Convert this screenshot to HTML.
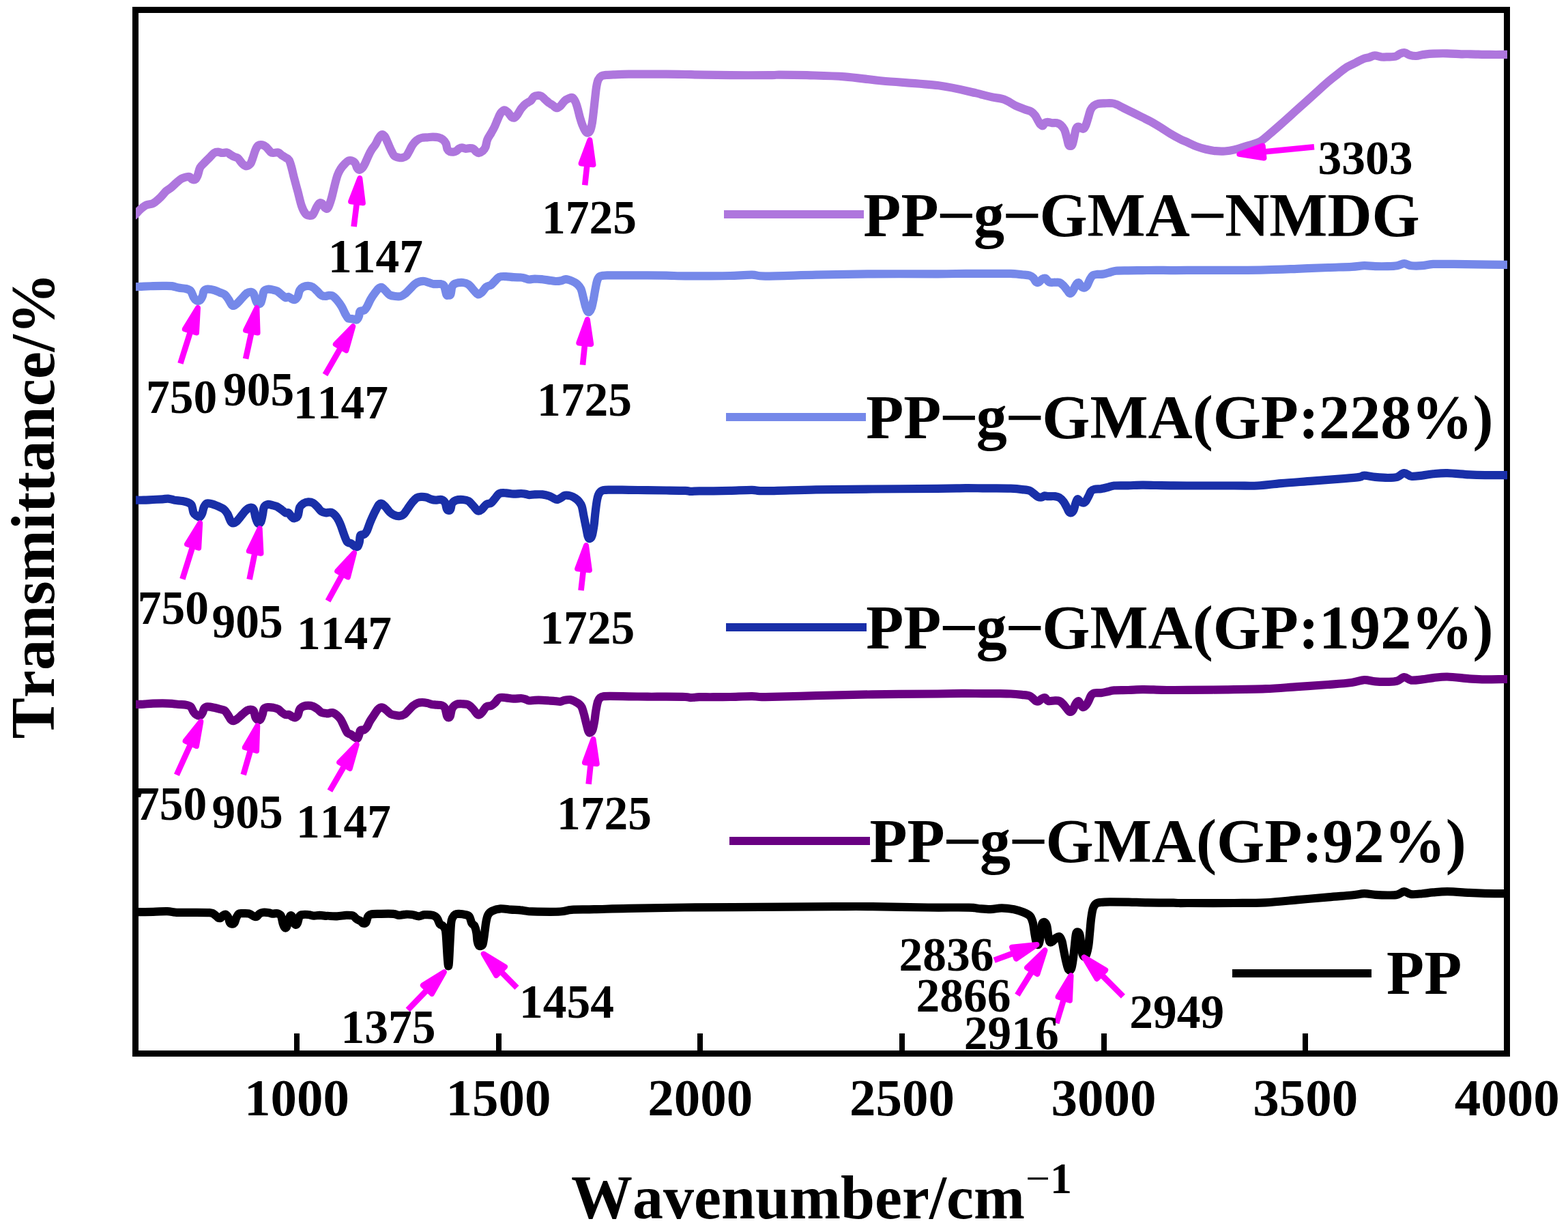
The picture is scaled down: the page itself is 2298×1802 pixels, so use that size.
<!DOCTYPE html>
<html lang="en">
<head>
<meta charset="utf-8">
<style>
html,body{margin:0;padding:0;background:#fff;}
body{width:2298px;height:1802px;overflow:hidden;}
svg{display:block;}
text{font-family:"Liberation Serif","DejaVu Serif",serif;font-weight:bold;fill:#000;font-kerning:none;font-variant-ligatures:none;}
.tick{font-size:77px;text-anchor:middle;}
.ann{font-size:69.5px;}
.leg{font-size:90.2px;}
.ttl{font-size:90px;}
.curve{fill:none;stroke-linejoin:round;stroke-linecap:butt;}
</style>
</head>
<body>
<svg width="2298" height="1802" viewBox="0 0 2298 1802">
<defs><clipPath id="plot"><rect x="199.0" y="14.5" width="2010.0" height="1529.0"/></clipPath></defs>
<rect x="0" y="0" width="2298" height="1802" fill="#fff"/>
<rect x="198.5" y="14.5" width="2010.0" height="1529.0" fill="none" stroke="#000" stroke-width="9" shape-rendering="crispEdges"/>
<g stroke="#000" stroke-width="8" shape-rendering="crispEdges">
<line x1="435" y1="1514" x2="435" y2="1540"/>
<line x1="731" y1="1514" x2="731" y2="1540"/>
<line x1="1026" y1="1514" x2="1026" y2="1540"/>
<line x1="1322" y1="1514" x2="1322" y2="1540"/>
<line x1="1618" y1="1514" x2="1618" y2="1540"/>
<line x1="1913" y1="1514" x2="1913" y2="1540"/>
</g>
<g clip-path="url(#plot)">
<path class="curve" d="M185.0,317.4C186.8,317.2 193.3,316.9 195.5,316.3C197.7,315.8 196.4,316.0 198.3,314.3C200.1,312.5 203.9,308.3 206.5,306.0C209.2,303.7 211.3,301.8 214.1,300.5C216.9,299.2 220.6,299.3 223.1,298.4C225.5,297.5 226.5,296.6 228.6,295.0C230.6,293.4 232.9,291.3 235.5,288.8C238.0,286.3 241.2,282.1 243.7,279.8C246.2,277.5 248.1,277.1 250.6,275.0C253.1,272.9 256.3,269.6 258.9,267.4C261.4,265.3 263.5,263.3 265.8,261.9C268.1,260.6 270.6,259.9 272.6,259.4C274.7,259.0 276.7,258.6 278.2,259.2C279.6,259.7 280.2,262.0 281.6,262.6C283.0,263.2 285.0,263.7 286.4,262.6C287.8,261.6 288.7,259.3 289.9,256.4C291.0,253.5 291.6,248.5 293.3,245.4C295.0,242.3 297.9,240.2 300.2,237.8C302.5,235.4 304.8,233.2 307.1,230.9C309.4,228.6 311.9,225.4 314.0,224.0C316.0,222.7 317.5,222.7 319.5,222.7C321.4,222.7 323.5,223.9 325.7,224.0C327.9,224.2 330.5,222.9 332.6,223.4C334.6,223.8 336.3,225.8 338.1,226.8C339.8,227.8 341.2,228.8 342.9,229.6C344.6,230.4 346.3,229.9 348.4,231.6C350.5,233.3 353.2,237.9 355.3,239.9C357.4,241.8 358.8,243.3 360.8,243.3C362.8,243.3 365.4,241.8 367.0,239.9C368.6,237.9 369.2,235.1 370.4,231.6C371.7,228.2 373.2,222.3 374.6,219.2C376.0,216.1 377.1,214.2 378.7,213.0C380.3,211.9 382.4,212.0 384.2,212.3C386.1,212.7 387.7,213.4 389.7,215.1C391.8,216.8 394.8,221.2 396.6,222.7C398.4,224.2 398.9,223.9 400.7,224.0C402.6,224.2 405.6,222.8 407.6,223.4C409.7,223.9 411.3,226.2 413.1,227.5C415.0,228.8 416.9,229.8 418.7,230.9C420.4,232.1 422.1,232.2 423.5,234.4C424.8,236.6 425.7,239.7 426.9,244.0C428.2,248.4 429.4,254.4 431.0,260.6C432.7,266.7 434.7,274.3 436.6,281.2C438.4,288.1 440.2,296.6 442.1,301.9C443.9,307.2 445.7,310.6 447.6,312.9C449.4,315.2 451.2,315.4 453.1,315.6C454.9,315.9 456.8,316.3 458.6,314.3C460.4,312.2 462.5,306.0 464.1,303.3C465.7,300.5 466.9,298.5 468.2,297.7C469.6,296.9 471.0,297.3 472.4,298.4C473.7,299.6 475.1,303.6 476.5,304.6C477.9,305.7 479.1,306.8 480.6,304.6C482.1,302.4 483.9,296.9 485.5,291.5C487.1,286.1 488.8,278.0 490.3,272.2C491.8,266.5 493.0,261.2 494.5,257.1C496.0,252.9 497.4,250.3 499.3,247.4C501.1,244.6 503.6,241.8 505.5,239.9C507.3,237.9 508.6,236.5 510.3,235.7C512.0,235.0 514.1,234.9 515.8,235.5C517.5,236.0 519.4,237.4 520.6,239.2C521.9,240.9 522.4,244.5 523.4,246.1C524.4,247.7 525.6,248.8 526.8,248.8C528.1,248.8 529.6,247.7 531.0,246.1C532.3,244.5 533.5,242.4 535.1,239.2C536.7,236.0 539.0,230.1 540.6,226.8C542.2,223.4 543.1,221.7 544.7,219.2C546.3,216.7 548.6,214.3 550.2,211.6C551.9,209.0 552.9,205.8 554.4,203.4C555.9,201.0 557.6,197.7 559.2,197.2C560.8,196.6 562.5,198.0 564.0,199.9C565.5,201.9 566.5,205.3 568.2,208.9C569.8,212.4 572.1,218.1 573.7,221.3C575.3,224.5 576.0,226.5 577.8,228.2C579.6,229.8 582.6,230.4 584.7,230.9C586.7,231.4 588.4,231.4 590.2,230.9C592.0,230.4 594.1,229.8 595.7,228.2C597.3,226.5 598.3,223.9 599.8,221.3C601.3,218.6 602.8,215.0 604.7,212.3C606.5,209.7 608.7,207.1 610.9,205.4C613.0,203.7 615.2,202.7 617.7,202.0C620.3,201.3 623.3,201.5 626.0,201.3C628.8,201.1 631.5,200.6 634.3,200.6C637.0,200.6 640.0,200.6 642.5,201.3C645.1,202.0 647.6,203.2 649.4,204.7C651.3,206.2 652.5,208.0 653.6,210.2C654.6,212.5 654.7,216.6 655.6,218.5C656.5,220.5 657.6,221.3 659.1,222.0C660.6,222.6 663.0,222.8 664.6,222.6C666.2,222.5 667.3,222.1 668.7,221.3C670.1,220.5 671.5,218.6 672.8,217.8C674.2,217.0 675.4,216.4 677.0,216.4C678.6,216.4 680.6,217.7 682.5,217.8C684.3,217.9 686.2,217.1 688.0,217.1C689.8,217.1 691.8,216.9 693.5,217.8C695.2,218.7 696.9,221.6 698.3,222.6C699.7,223.7 700.3,224.3 701.8,224.0C703.3,223.8 705.7,222.6 707.3,221.3C708.9,219.9 710.3,218.5 711.4,215.8C712.6,213.0 712.8,208.2 714.2,204.7C715.5,201.3 717.8,198.4 719.7,195.1C721.5,191.8 723.6,188.1 725.2,184.8C726.8,181.4 727.9,178.2 729.3,175.1C730.7,172.0 731.8,168.5 733.4,166.2C735.1,163.9 737.1,161.6 739.0,161.3C740.8,161.1 742.6,163.1 744.5,164.8C746.3,166.5 748.4,170.4 750.0,171.7C751.6,172.9 752.7,172.9 754.1,172.4C755.5,171.8 756.6,170.4 758.2,168.2C759.8,166.1 761.9,161.8 763.7,159.3C765.6,156.8 767.5,154.7 769.3,153.1C771.0,151.5 772.6,150.9 774.1,149.9C775.6,148.9 776.9,148.5 778.3,147.1C779.6,145.8 780.8,142.8 782.4,141.6C784.0,140.4 786.1,140.1 787.9,140.0C789.7,139.9 791.6,140.0 793.4,140.9C795.3,141.9 797.1,144.2 798.9,145.8C800.8,147.4 802.6,149.2 804.4,150.6C806.3,152.0 808.1,152.8 809.9,154.0C811.8,155.3 813.6,157.9 815.5,158.2C817.3,158.4 819.4,156.7 821.0,155.4C822.6,154.1 823.7,152.1 825.1,150.6C826.5,149.1 827.6,147.6 829.2,146.4C830.8,145.3 833.1,144.3 834.7,143.7C836.3,143.1 837.5,142.2 838.9,143.0C840.2,143.8 841.7,146.0 843.0,148.5C844.3,151.0 845.3,154.3 846.4,158.2C847.6,162.1 848.6,167.6 849.9,171.9C851.2,176.3 852.6,180.9 854.0,184.3C855.4,187.8 856.9,190.9 858.2,192.6C859.4,194.3 860.4,194.9 861.6,194.7C862.7,194.4 864.0,193.6 865.0,191.2C866.1,188.8 867.0,184.8 867.8,180.2C868.6,175.6 869.2,169.4 869.9,163.7C870.6,157.9 871.2,151.7 871.9,145.8C872.6,139.8 873.2,132.7 874.0,127.9C874.8,123.0 875.5,119.6 876.7,116.8C878.0,114.1 879.6,112.5 881.6,111.3C883.5,110.2 885.2,110.3 888.5,109.9C891.7,109.6 895.3,109.5 900.9,109.3C906.4,109.0 913.5,108.7 921.5,108.6C929.6,108.5 939.9,108.6 949.1,108.6C958.2,108.6 967.4,108.5 976.6,108.6C985.8,108.6 995.0,108.8 1004.2,109.0C1013.3,109.2 1020.7,109.5 1031.7,109.7C1042.7,109.9 1053.9,110.1 1070.0,110.2C1086.1,110.3 1116.6,110.3 1128.5,110.2C1140.4,110.1 1132.3,109.6 1141.3,109.6C1150.3,109.6 1166.6,109.7 1182.6,110.2C1198.7,110.7 1219.4,111.0 1237.7,112.4C1256.1,113.8 1269.9,116.3 1292.8,118.5C1315.8,120.6 1352.5,122.4 1375.5,125.3C1398.4,128.3 1419.8,134.1 1430.6,136.4C1440.0,138.6 1436.1,137.9 1440.0,138.9C1443.9,139.9 1448.5,141.2 1453.8,142.3C1459.1,143.5 1465.9,143.7 1471.7,145.8C1477.4,147.8 1483.2,152.3 1488.2,154.7C1493.3,157.1 1498.1,158.7 1502.0,160.2C1505.9,161.7 1509.1,162.2 1511.6,163.7C1514.2,165.2 1515.5,167.0 1517.1,169.2C1518.7,171.4 1520.0,174.6 1521.3,176.7C1522.5,178.9 1523.6,181.0 1524.7,182.3C1525.9,183.5 1527.1,184.7 1528.2,184.3C1529.2,184.0 1529.8,181.1 1530.9,180.2C1532.1,179.3 1533.2,178.8 1535.0,178.8C1536.9,178.8 1539.6,180.0 1541.9,180.2C1544.2,180.4 1546.7,179.7 1548.8,180.2C1550.9,180.7 1552.5,181.3 1554.3,182.9C1556.2,184.6 1558.3,186.9 1559.8,189.8C1561.3,192.8 1562.2,197.2 1563.3,200.9C1564.3,204.5 1565.1,209.7 1566.0,211.9C1567.0,214.1 1567.9,213.9 1568.8,213.9C1569.7,213.9 1570.6,214.1 1571.5,211.9C1572.5,209.7 1573.4,204.8 1574.3,200.9C1575.2,197.0 1576.0,191.0 1577.1,188.5C1578.1,185.9 1579.2,185.8 1580.5,185.7C1581.8,185.6 1583.4,187.3 1584.6,187.8C1585.9,188.2 1586.9,189.3 1588.1,188.5C1589.2,187.7 1590.4,185.7 1591.5,182.9C1592.7,180.2 1593.8,175.6 1595.0,171.9C1596.1,168.3 1597.1,163.7 1598.4,160.9C1599.7,158.2 1600.7,156.9 1602.5,155.4C1604.4,153.9 1606.7,152.6 1609.4,152.0C1612.2,151.3 1615.6,151.4 1619.1,151.3C1622.5,151.2 1627.1,150.9 1630.1,151.3C1633.1,151.6 1634.2,152.2 1637.0,153.3C1639.7,154.5 1642.7,156.2 1646.6,158.2C1650.5,160.1 1655.8,162.7 1660.4,165.0C1665.0,167.3 1669.6,169.6 1674.2,171.9C1678.8,174.2 1683.3,176.3 1687.9,178.8C1692.5,181.3 1697.1,184.2 1701.7,187.1C1706.3,189.9 1710.9,193.3 1715.5,196.0C1720.1,198.8 1725.2,201.5 1729.3,203.6C1733.3,205.7 1735.9,206.6 1740.0,208.4C1744.1,210.3 1749.2,212.9 1753.8,214.6C1758.4,216.3 1763.0,217.7 1767.5,218.8C1772.1,219.9 1776.7,220.8 1781.3,221.2C1785.9,221.7 1790.5,221.8 1795.1,221.5C1799.7,221.2 1804.3,220.5 1808.9,219.4C1813.5,218.4 1818.1,216.7 1822.6,215.3C1827.2,213.9 1832.3,212.6 1836.4,211.2C1840.6,209.8 1844.0,209.0 1847.4,207.1C1850.9,205.1 1852.0,203.7 1857.1,199.5C1862.1,195.2 1869.7,188.7 1877.7,181.6C1885.8,174.5 1896.1,165.0 1905.3,156.8C1914.5,148.5 1926.0,138.2 1932.8,132.0C1939.7,125.8 1942.0,123.5 1946.6,119.6C1951.2,115.7 1955.8,112.1 1960.4,108.6C1965.0,105.0 1969.6,101.1 1974.2,98.2C1978.8,95.4 1983.9,93.4 1987.9,91.3C1992.0,89.3 1995.2,87.4 1998.3,86.1C2001.4,84.9 2003.8,84.9 2006.5,84.1C2009.3,83.3 2011.8,81.4 2014.8,81.3C2017.8,81.2 2021.2,83.0 2024.4,83.4C2027.6,83.7 2030.6,83.5 2034.1,83.4C2037.5,83.3 2042.1,83.5 2045.1,82.7C2048.1,81.9 2049.7,79.5 2052.0,78.6C2054.3,77.6 2056.6,76.8 2058.9,77.2C2061.2,77.5 2063.0,79.8 2065.8,80.6C2068.5,81.4 2072.0,82.1 2075.4,82.0C2078.8,81.9 2082.3,80.5 2086.4,79.9C2090.6,79.4 2094.5,78.8 2100.2,78.6C2105.9,78.3 2114.0,78.2 2120.9,78.3C2127.7,78.4 2135.8,79.1 2141.5,79.3C2147.3,79.4 2148.4,79.1 2155.3,79.3C2162.2,79.4 2173.9,79.8 2182.8,79.9C2191.8,80.1 2203.5,79.9 2209.0,79.9C2214.5,79.9 2214.8,79.9 2216.0,79.9" stroke="#AE76DD" stroke-width="12.2"/>
<path class="curve" d="M185.0,420.2C186.8,420.2 193.3,420.2 195.5,420.2C197.7,420.2 195.7,420.4 198.3,420.2C200.8,420.1 206.3,419.7 210.7,419.6C215.0,419.4 219.8,419.3 224.4,419.1C229.0,419.0 233.6,418.9 238.2,418.9C242.8,418.9 248.1,418.7 252.0,419.1C255.9,419.6 258.2,421.0 261.6,421.6C265.1,422.3 269.7,422.2 272.6,423.0C275.6,423.8 277.7,424.4 279.5,426.4C281.4,428.5 282.3,433.1 283.7,435.4C285.0,437.7 286.3,439.4 287.8,440.2C289.3,441.0 291.1,441.3 292.6,440.2C294.1,439.2 295.7,436.3 296.7,434.0C297.8,431.7 297.6,428.2 298.8,426.4C300.1,424.7 301.8,423.9 304.3,423.7C306.9,423.5 311.0,424.3 314.0,425.1C317.0,425.9 319.7,427.5 322.2,428.5C324.8,429.5 327.1,429.7 329.1,431.3C331.2,432.9 332.9,435.6 334.6,438.2C336.3,440.7 338.1,444.8 339.4,446.4C340.8,448.0 341.4,448.3 342.9,447.8C344.4,447.3 346.3,445.6 348.4,443.7C350.5,441.7 353.0,438.5 355.3,436.1C357.6,433.7 360.1,430.6 362.2,429.2C364.2,427.8 366.1,427.6 367.7,427.8C369.3,428.1 370.6,428.4 371.8,430.6C373.1,432.8 374.2,438.5 375.3,440.9C376.3,443.3 376.9,444.6 378.0,445.0C379.2,445.5 381.0,445.5 382.1,443.7C383.3,441.8 384.1,436.9 384.9,434.0C385.7,431.2 385.7,428.2 387.0,426.4C388.2,424.7 390.4,424.0 392.5,423.7C394.5,423.3 397.1,423.9 399.4,424.4C401.7,424.8 404.0,425.2 406.3,426.4C408.5,427.7 411.1,430.3 413.1,432.0C415.2,433.6 417.0,435.6 418.7,436.1C420.3,436.6 421.2,434.5 422.8,434.8C424.4,435.2 426.7,437.5 428.3,438.2C429.9,438.8 431.0,439.5 432.4,438.8C433.8,438.2 435.4,436.3 436.6,434.0C437.7,431.7 437.9,427.4 439.3,425.1C440.7,422.8 442.8,421.3 444.8,420.2C446.9,419.2 449.4,418.8 451.7,418.9C454.0,419.0 456.3,419.6 458.6,420.9C460.9,422.3 463.4,425.2 465.5,427.1C467.5,429.1 468.9,431.5 471.0,432.6C473.1,433.8 476.3,434.0 477.9,434.0C479.5,434.1 479.1,433.1 480.6,433.0C482.1,432.9 484.7,432.2 486.9,433.3C489.1,434.4 491.5,436.9 493.8,439.5C496.1,442.2 498.6,445.7 500.7,449.2C502.7,452.6 504.6,457.3 506.2,460.2C507.8,463.1 508.7,465.2 510.3,466.4C511.9,467.5 513.7,466.7 515.8,467.1C517.9,467.4 521.0,469.1 522.7,468.5C524.4,467.8 525.3,465.0 526.1,462.9C526.9,460.9 526.3,457.4 527.5,456.1C528.8,454.7 532.0,455.8 533.7,454.7C535.4,453.5 536.2,451.9 537.9,449.2C539.5,446.4 541.5,441.4 543.4,438.2C545.2,434.9 547.0,432.4 548.9,429.9C550.7,427.4 552.7,424.5 554.4,423.0C556.1,421.5 557.4,420.4 559.2,420.9C561.0,421.5 563.4,424.6 565.4,426.4C567.4,428.3 568.6,430.7 570.9,432.0C573.2,433.2 576.4,433.7 579.2,434.0C581.9,434.4 584.9,434.7 587.4,434.0C590.0,433.3 592.0,431.7 594.3,429.9C596.6,428.1 598.9,425.3 601.2,423.0C603.5,420.7 605.8,417.8 608.1,416.1C610.4,414.4 612.7,413.4 615.0,412.7C617.3,412.0 619.6,411.8 621.9,412.0C624.2,412.2 626.5,413.4 628.8,414.0C631.1,414.7 632.9,415.8 635.6,416.1C638.4,416.5 642.8,415.7 645.3,416.1C647.8,416.6 649.3,416.3 650.8,418.9C652.3,421.4 653.2,429.0 654.2,431.3C655.3,433.6 656.0,432.6 657.0,432.6C658.0,432.6 659.5,433.3 660.4,431.3C661.4,429.2 661.4,422.9 662.5,420.2C663.7,417.6 664.7,416.5 667.3,415.4C670.0,414.4 675.1,413.8 678.3,414.0C681.6,414.3 683.9,414.9 686.6,416.8C689.4,418.8 692.6,423.3 694.9,425.8C697.2,428.2 698.5,430.8 700.4,431.3C702.2,431.7 703.8,430.3 705.9,428.5C708.0,426.7 710.5,422.1 712.8,420.2C715.1,418.4 717.6,418.9 719.7,417.5C721.7,416.1 723.1,413.9 725.2,412.0C727.2,410.0 729.3,406.9 732.1,405.8C734.8,404.6 738.3,405.0 741.7,405.1C745.2,405.2 749.1,406.0 752.7,406.2C756.4,406.4 760.9,406.2 763.7,406.5C766.6,406.7 768.0,407.3 770.0,407.9C772.0,408.4 773.2,409.4 775.5,409.5C777.8,409.6 780.6,408.6 783.8,408.5C787.0,408.5 791.3,408.9 794.8,409.2C798.2,409.6 801.2,410.1 804.4,410.6C807.6,411.1 811.1,411.9 814.1,412.0C817.1,412.1 819.8,411.8 822.3,411.3C824.9,410.8 826.5,409.1 829.2,409.2C832.0,409.3 836.1,410.8 838.9,412.0C841.6,413.1 843.7,414.3 845.8,416.1C847.8,418.0 849.8,419.8 851.3,423.0C852.8,426.2 853.6,431.0 854.7,435.4C855.9,439.8 857.1,445.7 858.2,449.2C859.2,452.6 860.0,454.8 860.9,456.1C861.8,457.3 862.6,457.7 863.7,456.7C864.7,455.8 866.1,453.7 867.1,450.6C868.1,447.5 868.9,442.7 869.9,438.2C870.8,433.6 871.7,427.6 872.6,423.0C873.5,418.4 874.3,413.6 875.4,410.6C876.4,407.6 877.3,406.2 878.8,405.1C880.3,403.9 881.8,404.0 884.3,403.7C886.9,403.4 887.8,403.5 894.0,403.4C900.2,403.4 912.3,403.4 921.5,403.4C930.7,403.4 939.9,403.4 949.1,403.4C958.2,403.5 967.4,403.6 976.6,403.7C985.8,403.9 995.0,404.3 1004.2,404.4C1013.3,404.5 1020.7,404.5 1031.7,404.4C1042.7,404.3 1058.3,404.3 1070.0,404.0C1081.7,403.7 1093.6,402.6 1102.2,402.7C1110.8,402.8 1105.9,404.6 1121.5,404.6C1137.1,404.6 1169.7,403.3 1195.9,402.7C1222.0,402.1 1248.8,401.6 1278.5,401.3C1308.2,401.1 1351.2,401.4 1374.0,401.3C1396.8,401.2 1404.3,400.8 1415.3,400.8C1426.3,400.7 1432.4,400.9 1440.0,400.9C1447.6,401.0 1453.8,400.9 1460.7,400.9C1467.5,400.9 1475.1,400.7 1481.3,400.9C1487.5,401.2 1493.3,401.9 1497.9,402.3C1502.4,402.8 1506.1,402.9 1508.9,403.7C1511.6,404.5 1512.8,405.5 1514.4,407.1C1516.0,408.7 1517.1,412.3 1518.5,413.3C1519.9,414.4 1521.3,414.0 1522.6,413.3C1524.0,412.6 1525.2,410.1 1526.8,409.2C1528.4,408.3 1530.4,407.1 1532.3,407.8C1534.1,408.5 1535.5,412.3 1537.8,413.3C1540.1,414.3 1543.5,413.6 1546.1,413.7C1548.6,413.9 1550.9,413.3 1552.9,414.0C1555.0,414.8 1556.6,416.3 1558.5,418.2C1560.3,420.0 1562.4,423.1 1564.0,425.0C1565.6,427.0 1566.7,429.6 1568.1,429.9C1569.5,430.1 1570.9,428.4 1572.2,426.4C1573.6,424.5 1575.0,420.2 1576.4,418.2C1577.7,416.1 1579.1,413.8 1580.5,414.0C1581.9,414.3 1583.3,418.3 1584.6,419.5C1586.0,420.8 1587.4,421.7 1588.8,421.6C1590.1,421.5 1591.5,420.8 1592.9,418.8C1594.3,416.9 1595.6,412.4 1597.0,409.9C1598.4,407.4 1599.3,405.0 1601.2,403.7C1603.0,402.4 1605.5,402.2 1608.0,401.9C1610.6,401.6 1613.6,402.0 1616.3,401.6C1619.1,401.2 1621.4,400.4 1624.6,399.6C1627.8,398.8 1630.8,397.3 1635.6,396.8C1640.4,396.3 1647.1,396.5 1653.5,396.4C1659.9,396.3 1667.3,396.2 1674.2,396.1C1681.0,396.0 1687.9,395.8 1694.8,395.8C1701.7,395.8 1708.0,396.1 1715.5,396.1C1723.0,396.1 1724.4,395.9 1740.0,395.9C1755.6,395.8 1789.7,396.0 1808.9,395.9C1828.0,395.8 1839.5,395.8 1854.8,395.4C1870.1,395.1 1885.4,394.4 1900.7,393.8C1916.0,393.2 1933.2,392.5 1946.6,392.0C1960.0,391.5 1972.2,391.3 1981.0,390.8C1989.8,390.4 1993.7,389.3 1999.4,389.2C2005.2,389.1 2009.7,390.0 2015.5,390.1C2021.2,390.3 2028.5,390.3 2033.8,390.1C2039.2,390.0 2043.6,389.9 2047.6,389.2C2051.6,388.6 2054.5,386.2 2058.0,386.2C2061.4,386.2 2063.9,388.7 2068.3,389.2C2072.7,389.7 2079.0,389.6 2084.4,389.2C2089.7,388.8 2092.8,387.3 2100.4,386.9C2108.1,386.6 2119.6,386.9 2130.3,386.9C2141.0,387.0 2151.7,387.2 2164.7,387.4C2177.7,387.5 2199.8,387.8 2208.3,387.9C2216.0,387.9 2214.7,387.9 2216.0,387.9" stroke="#7588E9" stroke-width="12.2"/>
<path class="curve" d="M185.0,732.7C186.8,732.7 193.3,732.7 195.5,732.7C197.7,732.7 195.7,732.7 198.3,732.7C200.8,732.7 206.3,732.8 210.7,732.7C215.0,732.6 219.8,732.2 224.4,732.0C229.0,731.8 234.5,731.5 238.2,731.3C241.9,731.1 243.5,730.4 246.5,730.6C249.5,730.8 252.7,732.1 256.1,732.7C259.6,733.2 263.9,733.5 267.1,734.0C270.3,734.6 273.1,735.1 275.4,736.1C277.7,737.1 279.5,737.7 280.9,740.2C282.3,742.8 282.5,748.7 283.7,751.3C284.8,753.8 286.3,754.4 287.8,755.4C289.3,756.4 291.2,757.9 292.6,757.5C294.0,757.0 295.0,755.1 296.1,752.6C297.1,750.2 297.7,745.5 298.8,743.0C300.0,740.5 301.1,738.3 302.9,737.5C304.8,736.7 307.1,737.5 309.8,738.2C312.6,738.9 316.5,740.4 319.5,741.6C322.5,742.9 325.4,743.9 327.7,745.8C330.0,747.6 331.5,749.7 333.3,752.6C335.0,755.6 336.7,761.4 338.1,763.7C339.4,766.0 340.0,766.4 341.5,766.4C343.0,766.4 345.0,765.5 347.0,763.7C349.1,761.8 351.6,758.2 353.9,755.4C356.2,752.6 358.5,749.1 360.8,747.1C363.1,745.2 365.8,743.8 367.7,743.7C369.5,743.6 370.7,744.0 371.8,746.4C373.0,748.9 373.5,754.8 374.6,758.2C375.6,761.5 376.8,765.3 378.0,766.4C379.3,767.6 381.0,767.1 382.1,765.0C383.3,763.0 384.1,757.7 384.9,754.0C385.7,750.3 385.7,745.5 387.0,743.0C388.2,740.5 390.4,739.3 392.5,738.9C394.5,738.4 397.1,739.7 399.4,740.2C401.7,740.8 404.0,741.2 406.3,742.3C408.5,743.5 411.1,745.6 413.1,747.1C415.2,748.6 417.0,750.6 418.7,751.3C420.3,752.0 421.4,750.4 422.8,751.3C424.2,752.1 425.5,755.1 426.9,756.5C428.3,757.9 429.4,759.7 431.0,759.5C432.7,759.3 435.2,758.2 436.6,755.4C437.9,752.6 437.9,746.0 439.3,743.0C440.7,740.0 442.8,738.8 444.8,737.5C446.9,736.2 449.4,735.5 451.7,735.4C454.0,735.3 456.3,735.5 458.6,736.8C460.9,738.1 463.4,740.9 465.5,743.0C467.5,745.1 468.9,747.8 471.0,749.2C473.1,750.6 476.3,751.0 477.9,751.3C479.5,751.6 479.1,750.9 480.6,750.9C482.1,750.9 484.7,750.1 486.9,751.3C489.1,752.5 491.7,755.2 493.8,758.2C495.8,761.1 497.6,765.0 499.3,769.2C501.0,773.3 502.5,778.8 504.1,782.9C505.7,787.1 507.2,791.8 508.9,794.0C510.6,796.1 512.6,795.0 514.4,796.0C516.3,797.1 518.3,799.4 519.9,800.2C521.6,801.0 522.9,801.9 524.1,800.9C525.2,799.8 526.1,796.7 526.8,794.0C527.5,791.2 527.1,786.2 528.2,784.3C529.4,782.5 532.1,784.1 533.7,782.9C535.3,781.8 536.5,780.2 537.9,777.4C539.2,774.7 540.6,769.9 542.0,766.4C543.4,763.0 544.5,760.2 546.1,756.8C547.7,753.3 550.0,748.7 551.6,745.8C553.2,742.8 554.4,740.1 555.8,738.9C557.1,737.6 558.3,737.5 559.9,738.2C561.5,738.9 563.6,741.1 565.4,743.0C567.2,745.0 568.8,747.9 570.9,749.9C573.0,751.8 575.5,753.7 577.8,754.7C580.1,755.7 582.4,756.3 584.7,756.1C587.0,755.9 589.5,755.1 591.6,753.3C593.6,751.6 595.0,748.6 597.1,745.8C599.1,742.9 601.7,738.9 604.0,736.1C606.3,733.4 608.6,730.6 610.9,729.2C613.1,727.9 615.4,728.0 617.7,727.9C620.0,727.7 622.3,728.0 624.6,728.5C626.9,729.1 629.2,730.6 631.5,731.3C633.8,732.0 635.9,732.6 638.4,732.7C640.9,732.8 644.4,731.4 646.7,732.0C649.0,732.6 650.8,733.8 652.2,736.1C653.6,738.4 654.0,743.8 654.9,745.8C655.8,747.7 656.8,747.8 657.7,747.8C658.6,747.8 659.6,747.5 660.4,745.8C661.2,744.0 661.1,739.7 662.5,737.5C663.9,735.3 666.1,733.6 668.7,732.7C671.3,731.8 675.4,731.8 678.3,732.0C681.3,732.2 684.1,732.6 686.6,734.0C689.1,735.5 691.2,738.5 693.5,740.9C695.8,743.3 698.3,747.6 700.4,748.5C702.5,749.4 703.8,748.1 705.9,746.4C708.0,744.8 710.5,740.5 712.8,738.9C715.1,737.3 717.6,738.2 719.7,736.8C721.7,735.4 723.1,732.9 725.2,730.6C727.2,728.3 729.3,724.4 732.1,723.0C734.8,721.7 738.3,722.2 741.7,722.3C745.2,722.5 749.1,723.6 752.7,723.7C756.4,723.8 760.9,723.0 763.7,723.0C766.6,723.0 768.0,723.4 770.0,723.7C772.0,724.1 773.2,725.0 775.5,725.1C777.8,725.2 780.6,724.5 783.8,724.4C787.0,724.3 791.3,724.1 794.8,724.4C798.2,724.8 801.7,725.6 804.4,726.5C807.2,727.4 809.4,729.0 811.3,729.9C813.3,730.8 814.3,732.1 816.1,732.0C818.0,731.9 820.4,730.3 822.3,729.2C824.3,728.2 825.6,726.2 827.9,725.8C830.1,725.3 833.6,725.8 836.1,726.5C838.6,727.2 840.9,728.5 843.0,729.9C845.1,731.3 846.9,732.8 848.5,734.7C850.1,736.7 851.5,738.2 852.6,741.6C853.8,745.1 854.4,750.3 855.4,755.4C856.4,760.4 857.8,766.9 858.8,771.9C859.9,777.0 860.7,782.8 861.6,785.7C862.5,788.6 863.3,789.4 864.4,789.1C865.4,788.9 866.8,787.7 867.8,784.3C868.8,781.0 869.7,774.9 870.6,769.2C871.4,763.4 871.8,756.3 872.6,749.9C873.4,743.5 874.3,735.3 875.4,730.6C876.4,725.9 877.3,723.7 878.8,721.7C880.3,719.6 881.8,718.9 884.3,718.2C886.9,717.5 887.8,717.6 894.0,717.5C900.2,717.5 912.3,717.7 921.5,717.8C930.7,717.9 939.9,718.1 949.1,718.2C958.2,718.3 967.4,718.4 976.6,718.5C985.8,718.6 998.2,718.7 1004.2,718.9C1010.1,719.1 1009.0,719.8 1012.4,719.9C1015.9,719.9 1019.3,719.4 1024.8,719.3C1030.3,719.2 1038.0,719.4 1045.5,719.3C1053.0,719.2 1060.5,719.1 1070.0,718.9C1079.5,718.7 1093.6,717.8 1102.2,717.9C1110.8,717.9 1105.9,719.3 1121.5,719.2C1137.1,719.1 1169.7,717.8 1195.9,717.3C1222.0,716.8 1248.8,716.7 1278.5,716.5C1308.2,716.2 1351.2,716.2 1374.0,715.9C1396.8,715.7 1404.3,715.2 1415.3,715.1C1426.3,715.0 1432.4,715.3 1440.0,715.4C1447.6,715.4 1453.8,715.4 1460.7,715.4C1467.5,715.4 1475.1,715.4 1481.3,715.7C1487.5,716.0 1493.3,716.5 1497.9,717.1C1502.4,717.6 1505.9,717.7 1508.9,718.8C1511.9,719.9 1513.7,722.2 1515.8,723.7C1517.8,725.2 1519.4,727.0 1521.3,727.8C1523.1,728.6 1525.2,728.7 1526.8,728.5C1528.4,728.3 1529.3,726.6 1530.9,726.4C1532.5,726.2 1533.9,727.0 1536.4,727.1C1538.9,727.2 1543.3,726.8 1546.1,727.1C1548.8,727.5 1550.9,727.9 1552.9,729.2C1555.0,730.4 1556.7,732.4 1558.5,734.7C1560.2,737.0 1561.9,740.4 1563.3,742.9C1564.7,745.5 1565.6,748.5 1566.7,749.8C1567.9,751.2 1569.0,751.7 1570.2,751.2C1571.3,750.8 1572.6,749.4 1573.6,747.1C1574.6,744.8 1575.4,740.1 1576.4,737.4C1577.3,734.8 1578.0,731.7 1579.1,731.2C1580.3,730.8 1581.9,733.8 1583.3,734.7C1584.6,735.6 1586.0,736.9 1587.4,736.7C1588.8,736.6 1590.1,735.7 1591.5,734.0C1592.9,732.3 1594.4,728.8 1595.6,726.4C1596.9,724.0 1597.7,721.1 1599.1,719.5C1600.5,717.9 1601.5,717.4 1603.9,716.8C1606.3,716.2 1610.3,716.5 1613.6,716.1C1616.8,715.6 1620.0,714.8 1623.2,714.0C1626.4,713.3 1627.8,712.0 1632.8,711.5C1637.9,711.1 1646.6,711.4 1653.5,711.3C1660.4,711.1 1667.3,710.6 1674.2,710.6C1681.0,710.5 1687.9,710.9 1694.8,711.0C1701.7,711.1 1708.0,711.2 1715.5,711.3C1723.0,711.4 1724.4,711.5 1740.0,711.5C1755.6,711.5 1791.7,711.5 1808.9,711.5C1826.1,711.5 1831.8,712.1 1843.3,711.5C1854.8,710.9 1864.3,709.2 1877.7,708.1C1891.1,706.9 1908.4,705.8 1923.7,704.6C1939.0,703.5 1958.1,702.1 1969.6,701.2C1981.0,700.2 1987.6,699.6 1992.5,698.9C1997.5,698.1 1995.6,696.6 1999.4,696.6C2003.2,696.6 2009.7,698.3 2015.5,698.9C2021.2,699.4 2028.5,700.0 2033.8,700.0C2039.2,700.0 2043.6,700.0 2047.6,698.9C2051.6,697.7 2054.5,693.3 2058.0,693.1C2061.4,692.9 2063.9,697.1 2068.3,697.7C2072.7,698.3 2079.0,697.1 2084.4,696.6C2089.7,696.0 2094.3,694.9 2100.4,694.3C2106.5,693.7 2112.3,692.9 2121.1,693.1C2129.9,693.3 2144.0,694.9 2153.2,695.4C2162.4,695.9 2167.0,696.0 2176.2,696.1C2185.4,696.2 2201.7,696.1 2208.3,696.1C2215.0,696.1 2214.7,696.1 2216.0,696.1" stroke="#192FA8" stroke-width="12.2"/>
<path class="curve" d="M185.0,1032.0C186.8,1032.0 193.3,1032.0 195.5,1032.0C197.7,1032.0 195.7,1032.1 198.3,1032.0C200.8,1031.9 206.3,1031.8 210.7,1031.6C215.0,1031.3 219.8,1030.8 224.4,1030.6C229.0,1030.4 233.6,1030.3 238.2,1030.3C242.8,1030.4 248.1,1030.6 252.0,1030.9C255.9,1031.2 258.2,1031.7 261.6,1032.0C265.1,1032.3 269.7,1032.1 272.6,1032.7C275.6,1033.2 277.7,1033.7 279.5,1035.4C281.4,1037.1 282.3,1041.1 283.7,1043.0C285.0,1045.0 286.2,1046.2 287.8,1047.1C289.4,1048.1 291.8,1049.0 293.3,1048.5C294.8,1048.1 295.7,1046.2 296.7,1044.4C297.8,1042.5 298.2,1039.0 299.5,1037.5C300.8,1036.0 301.9,1035.5 304.3,1035.4C306.7,1035.3 311.0,1036.2 314.0,1036.8C317.0,1037.4 319.7,1038.2 322.2,1038.9C324.8,1039.6 327.2,1039.6 329.1,1040.9C331.1,1042.3 332.4,1045.0 333.9,1047.1C335.4,1049.3 336.7,1052.5 338.1,1054.0C339.4,1055.5 340.5,1056.3 342.2,1056.1C343.9,1055.9 346.2,1054.3 348.4,1052.6C350.6,1051.0 353.0,1048.4 355.3,1046.4C357.6,1044.5 360.1,1042.1 362.2,1040.9C364.2,1039.8 366.1,1039.4 367.7,1039.6C369.3,1039.7 370.7,1039.7 371.8,1041.6C373.0,1043.6 373.5,1049.1 374.6,1051.3C375.6,1053.4 376.8,1054.4 378.0,1054.7C379.3,1055.1 381.0,1054.8 382.1,1053.3C383.3,1051.8 384.1,1048.3 384.9,1045.8C385.7,1043.2 385.7,1039.8 387.0,1038.2C388.2,1036.6 390.2,1036.3 392.5,1036.1C394.8,1035.9 398.2,1036.3 400.7,1036.8C403.3,1037.3 405.6,1037.7 407.6,1038.9C409.7,1040.0 411.3,1042.3 413.1,1043.7C415.0,1045.1 416.9,1046.6 418.7,1047.1C420.4,1047.7 421.9,1046.4 423.5,1046.9C425.1,1047.3 426.8,1049.2 428.3,1049.9C429.8,1050.6 431.0,1051.6 432.4,1051.3C433.8,1050.9 435.4,1049.9 436.6,1047.8C437.7,1045.8 437.9,1041.1 439.3,1038.9C440.7,1036.7 442.8,1035.6 444.8,1034.7C446.9,1033.9 449.4,1033.6 451.7,1033.6C454.0,1033.6 456.3,1033.9 458.6,1034.7C460.9,1035.6 463.4,1037.4 465.5,1038.9C467.5,1040.4 468.9,1042.7 471.0,1043.7C473.1,1044.7 476.3,1044.8 477.9,1045.1C479.5,1045.4 479.1,1045.6 480.6,1045.4C482.1,1045.2 484.7,1043.7 486.9,1044.1C489.1,1044.5 491.7,1046.2 493.8,1047.8C495.8,1049.5 497.6,1051.4 499.3,1054.0C501.0,1056.7 502.5,1060.4 504.1,1063.7C505.7,1066.9 507.2,1071.2 508.9,1073.3C510.6,1075.4 512.6,1074.9 514.4,1076.1C516.3,1077.2 518.3,1079.3 519.9,1080.2C521.6,1081.1 522.9,1082.5 524.1,1081.6C525.2,1080.7 526.1,1076.6 526.8,1074.7C527.5,1072.7 527.1,1070.8 528.2,1069.9C529.4,1068.9 532.1,1070.0 533.7,1069.2C535.3,1068.4 536.5,1067.1 537.9,1065.0C539.2,1063.0 540.4,1059.5 542.0,1056.8C543.6,1054.0 545.7,1051.3 547.5,1048.5C549.3,1045.8 551.4,1042.2 553.0,1040.2C554.6,1038.3 555.8,1037.4 557.1,1036.8C558.5,1036.2 559.7,1036.1 561.3,1036.8C562.9,1037.5 564.9,1039.4 566.8,1040.9C568.6,1042.4 570.2,1044.6 572.3,1045.8C574.4,1046.9 576.9,1047.4 579.2,1047.8C581.5,1048.3 583.8,1048.7 586.1,1048.5C588.4,1048.3 590.9,1047.7 592.9,1046.4C595.0,1045.2 596.4,1043.0 598.5,1040.9C600.5,1038.9 603.0,1035.9 605.3,1034.0C607.6,1032.2 609.9,1030.7 612.2,1029.9C614.5,1029.1 616.8,1029.2 619.1,1029.2C621.4,1029.2 623.7,1029.5 626.0,1029.9C628.3,1030.4 630.6,1031.5 632.9,1032.0C635.2,1032.4 637.4,1032.4 639.8,1032.7C642.2,1032.9 645.3,1032.6 647.4,1033.4C649.4,1034.2 650.9,1035.0 652.2,1037.5C653.4,1040.0 654.1,1046.2 654.9,1048.5C655.7,1050.8 656.2,1051.2 657.0,1051.3C657.8,1051.4 658.8,1051.4 659.8,1049.2C660.7,1047.0 661.0,1041.1 662.5,1038.2C664.0,1035.3 666.1,1033.1 668.7,1032.0C671.3,1030.8 675.4,1031.2 678.3,1031.3C681.3,1031.4 684.1,1031.4 686.6,1032.7C689.1,1033.9 691.2,1036.5 693.5,1038.9C695.8,1041.3 698.3,1046.2 700.4,1047.1C702.5,1048.1 703.8,1046.3 705.9,1044.4C708.0,1042.4 710.5,1037.1 712.8,1035.4C715.1,1033.7 717.6,1035.0 719.7,1034.0C721.7,1033.1 723.1,1031.9 725.2,1029.9C727.2,1028.0 729.3,1023.6 732.1,1022.3C734.8,1021.1 738.3,1022.1 741.7,1022.3C745.2,1022.6 749.1,1023.6 752.7,1023.7C756.4,1023.8 760.9,1022.9 763.7,1023.0C766.6,1023.1 768.0,1023.8 770.0,1024.4C772.0,1025.0 773.2,1026.2 775.5,1026.5C777.8,1026.7 780.6,1025.9 783.8,1025.8C787.0,1025.7 791.3,1025.7 794.8,1025.8C798.2,1025.9 801.2,1026.2 804.4,1026.5C807.6,1026.7 811.3,1026.9 814.1,1027.2C816.8,1027.4 818.7,1028.1 821.0,1027.9C823.3,1027.6 825.3,1026.2 827.9,1025.8C830.4,1025.3 833.6,1024.8 836.1,1025.1C838.6,1025.4 840.9,1026.8 843.0,1027.9C845.1,1028.9 846.9,1029.9 848.5,1031.3C850.1,1032.7 851.4,1033.5 852.6,1036.1C853.9,1038.8 854.9,1043.0 856.1,1047.1C857.2,1051.3 858.5,1056.9 859.5,1060.9C860.6,1064.9 861.4,1069.2 862.3,1071.2C863.2,1073.3 864.0,1073.7 865.0,1073.3C866.1,1073.0 867.5,1071.9 868.5,1069.2C869.5,1066.4 870.4,1061.4 871.2,1056.8C872.0,1052.2 872.5,1046.4 873.3,1041.6C874.1,1036.8 875.0,1031.1 876.1,1027.9C877.1,1024.6 878.1,1023.6 879.5,1022.3C880.9,1021.1 881.9,1020.7 884.3,1020.3C886.7,1019.9 887.8,1019.9 894.0,1019.9C900.2,1019.9 912.3,1020.1 921.5,1020.3C930.7,1020.4 939.9,1020.6 949.1,1020.7C958.2,1020.8 967.4,1020.6 976.6,1020.7C985.8,1020.7 998.2,1020.7 1004.2,1021.0C1010.1,1021.2 1009.0,1022.0 1012.4,1022.1C1015.9,1022.1 1019.3,1021.4 1024.8,1021.2C1030.3,1021.1 1038.0,1021.3 1045.5,1021.2C1053.0,1021.2 1060.5,1021.2 1070.0,1021.0C1079.5,1020.8 1093.6,1020.0 1102.2,1020.1C1110.8,1020.1 1105.9,1021.3 1121.5,1021.2C1137.1,1021.0 1169.7,1019.9 1195.9,1019.2C1222.0,1018.6 1248.8,1017.8 1278.5,1017.3C1308.2,1016.8 1351.2,1016.7 1374.0,1016.5C1396.8,1016.2 1404.3,1016.0 1415.3,1015.9C1426.3,1015.9 1432.4,1016.1 1440.0,1016.1C1447.6,1016.1 1453.8,1016.0 1460.7,1016.1C1467.5,1016.2 1475.1,1016.2 1481.3,1016.5C1487.5,1016.8 1493.3,1017.4 1497.9,1017.9C1502.4,1018.4 1506.1,1018.6 1508.9,1019.5C1511.6,1020.5 1512.8,1022.4 1514.4,1023.7C1516.0,1024.9 1517.1,1026.5 1518.5,1027.1C1519.9,1027.7 1521.3,1027.7 1522.6,1027.1C1524.0,1026.5 1525.3,1024.5 1526.8,1023.7C1528.3,1022.9 1530.0,1021.7 1531.6,1022.3C1533.2,1022.9 1534.0,1026.4 1536.4,1027.1C1538.8,1027.8 1543.3,1026.4 1546.1,1026.4C1548.8,1026.4 1550.9,1026.2 1552.9,1027.1C1555.0,1028.0 1556.6,1030.0 1558.5,1031.9C1560.3,1033.9 1562.4,1037.0 1564.0,1038.8C1565.6,1040.7 1566.7,1042.7 1568.1,1042.9C1569.5,1043.2 1570.9,1042.1 1572.2,1040.2C1573.6,1038.2 1575.0,1033.4 1576.4,1031.2C1577.7,1029.1 1579.2,1026.9 1580.5,1027.1C1581.8,1027.3 1582.8,1031.1 1583.9,1032.6C1585.1,1034.1 1586.1,1035.9 1587.4,1036.1C1588.6,1036.2 1590.1,1034.9 1591.5,1033.3C1592.9,1031.7 1594.4,1028.8 1595.6,1026.4C1596.9,1024.0 1597.7,1020.7 1599.1,1018.8C1600.5,1017.0 1601.5,1016.0 1603.9,1015.4C1606.3,1014.8 1610.3,1015.5 1613.6,1015.1C1616.8,1014.8 1620.0,1014.0 1623.2,1013.3C1626.4,1012.7 1627.8,1011.7 1632.8,1011.3C1637.9,1010.9 1646.6,1011.2 1653.5,1011.0C1660.4,1010.8 1667.3,1010.2 1674.2,1010.2C1681.0,1010.1 1687.9,1010.4 1694.8,1010.6C1701.7,1010.7 1708.0,1011.0 1715.5,1011.0C1723.0,1011.0 1726.3,1010.9 1740.0,1010.8C1753.7,1010.7 1778.3,1010.6 1797.4,1010.3C1816.5,1010.1 1837.6,1009.9 1854.8,1009.2C1872.0,1008.5 1885.4,1007.2 1900.7,1006.2C1916.0,1005.2 1933.2,1004.0 1946.6,1003.0C1960.0,1002.0 1972.2,1001.2 1981.0,1000.0C1989.8,998.9 1993.7,996.4 1999.4,996.1C2005.2,995.8 2009.7,998.0 2015.5,998.4C2021.2,998.9 2028.5,999.0 2033.8,998.9C2039.2,998.8 2043.6,998.9 2047.6,997.7C2051.6,996.6 2054.5,992.2 2058.0,992.0C2061.4,991.8 2063.9,996.0 2068.3,996.6C2072.7,997.1 2079.0,996.0 2084.4,995.4C2089.7,994.9 2094.3,993.8 2100.4,993.1C2106.5,992.5 2112.3,991.3 2121.1,991.5C2129.9,991.7 2144.0,993.6 2153.2,994.3C2162.4,994.9 2167.0,995.3 2176.2,995.4C2185.4,995.5 2201.7,995.0 2208.3,995.0C2215.0,994.9 2214.7,995.0 2216.0,995.0" stroke="#690082" stroke-width="12.2"/>
<path class="curve" d="M185.0,1336.1C186.8,1336.1 193.3,1336.1 195.5,1336.1C197.7,1336.1 195.5,1336.2 198.3,1336.1C203.1,1336.1 216.6,1336.0 224.4,1335.8C232.2,1335.7 239.4,1335.0 245.1,1335.2C250.8,1335.3 253.1,1336.5 258.9,1336.8C264.6,1337.1 271.5,1336.7 279.5,1336.8C287.6,1336.9 301.3,1336.8 307.1,1337.2C312.8,1337.7 311.9,1338.4 314.0,1339.6C316.0,1340.8 318.0,1343.5 319.5,1344.4C321.0,1345.3 321.8,1345.5 322.9,1345.1C324.1,1344.6 325.1,1342.5 326.4,1341.6C327.6,1340.7 329.1,1339.1 330.5,1339.6C331.9,1340.0 333.6,1342.4 334.6,1344.4C335.7,1346.3 335.8,1349.7 336.7,1351.3C337.6,1352.8 339.0,1353.6 340.1,1353.7C341.3,1353.9 342.5,1353.5 343.6,1352.0C344.6,1350.4 345.3,1346.6 346.3,1344.4C347.4,1342.2 348.3,1339.9 349.8,1338.9C351.3,1337.8 352.8,1338.3 355.3,1338.2C357.8,1338.1 362.2,1337.8 364.9,1338.5C367.7,1339.1 370.0,1341.6 371.8,1342.3C373.7,1343.1 374.6,1343.6 376.0,1343.0C377.3,1342.4 378.5,1339.9 380.1,1338.9C381.7,1337.8 383.3,1337.1 385.6,1336.8C387.9,1336.5 391.6,1336.9 393.9,1337.2C396.2,1337.5 397.3,1338.4 399.4,1338.6C401.4,1338.8 404.2,1337.7 406.3,1338.2C408.3,1338.7 410.4,1339.2 411.8,1341.6C413.1,1344.0 413.6,1349.8 414.5,1352.6C415.4,1355.5 416.4,1357.9 417.3,1358.8C418.2,1359.8 419.1,1359.9 420.0,1358.2C420.9,1356.4 421.9,1351.3 422.8,1348.5C423.7,1345.8 424.6,1342.5 425.5,1341.6C426.5,1340.7 427.5,1341.4 428.3,1343.0C429.1,1344.6 429.6,1349.3 430.4,1351.3C431.2,1353.2 432.2,1354.5 433.1,1354.7C434.0,1354.9 434.9,1354.6 435.9,1352.6C436.8,1350.7 437.6,1345.1 438.6,1343.0C439.7,1340.9 439.9,1340.8 442.1,1340.2C444.2,1339.7 448.7,1339.7 451.7,1340.0C454.7,1340.2 457.2,1341.5 460.0,1341.6C462.7,1341.8 465.3,1340.9 468.2,1340.9C471.2,1341.0 475.9,1341.7 477.9,1341.9C479.8,1342.1 477.9,1341.8 480.0,1341.9C482.6,1342.0 489.2,1342.5 493.8,1342.3C498.4,1342.2 503.6,1341.1 507.5,1340.9C511.5,1340.8 514.7,1340.7 517.2,1341.6C519.7,1342.5 520.9,1345.2 522.7,1346.4C524.5,1347.7 526.6,1348.2 528.2,1349.2C529.8,1350.2 531.0,1352.3 532.3,1352.6C533.7,1353.0 535.3,1352.9 536.5,1351.3C537.6,1349.7 538.1,1345.0 539.2,1343.0C540.4,1341.1 540.6,1340.2 543.4,1339.6C546.1,1338.9 550.2,1339.0 555.8,1338.9C561.3,1338.8 571.6,1338.5 576.4,1338.9C581.2,1339.2 581.7,1340.8 584.7,1340.9C587.7,1341.1 591.1,1339.7 594.3,1339.6C597.5,1339.4 600.8,1339.5 604.0,1340.0C607.2,1340.4 610.6,1342.3 613.6,1342.3C616.6,1342.4 618.4,1340.5 621.9,1340.2C625.3,1340.0 631.2,1340.1 634.3,1340.9C637.4,1341.7 638.7,1342.9 640.5,1345.1C642.2,1347.2 643.2,1352.2 644.6,1354.0C646.0,1355.9 647.5,1354.9 648.7,1356.1C650.0,1357.2 651.4,1359.2 652.2,1360.9C653.0,1362.6 653.0,1363.2 653.4,1366.4C653.8,1369.6 654.1,1375.6 654.4,1380.2C654.7,1384.8 654.9,1389.4 655.2,1394.0C655.5,1398.6 655.8,1404.2 656.2,1407.7C656.5,1411.3 656.8,1415.3 657.1,1415.3C657.5,1415.3 657.7,1413.6 658.1,1407.7C658.5,1401.9 659.0,1389.4 659.5,1380.2C660.0,1371.0 660.5,1358.6 661.1,1352.6C661.7,1346.7 662.2,1346.6 663.2,1344.4C664.2,1342.2 665.7,1340.5 667.3,1339.6C668.9,1338.6 670.3,1338.8 672.8,1338.9C675.4,1339.0 680.0,1339.6 682.5,1340.2C685.0,1340.9 686.5,1340.9 688.0,1343.0C689.5,1345.1 690.2,1350.3 691.4,1352.6C692.7,1354.9 694.4,1354.5 695.6,1356.8C696.7,1359.1 697.7,1362.7 698.3,1366.4C699.0,1370.1 699.0,1375.7 699.6,1378.8C700.1,1381.9 700.9,1383.8 701.8,1385.0C702.6,1386.2 703.6,1386.1 704.5,1386.0C705.4,1385.8 706.5,1385.7 707.3,1384.0C708.0,1382.4 708.4,1379.5 708.9,1376.1C709.5,1372.7 710.0,1368.0 710.6,1363.7C711.2,1359.3 711.7,1353.8 712.5,1349.9C713.3,1346.0 713.8,1342.8 715.3,1340.2C716.7,1337.7 718.0,1336.2 721.0,1334.7C724.1,1333.2 728.9,1331.6 733.4,1331.3C738.0,1331.0 743.8,1332.3 748.6,1332.7C753.4,1333.0 758.5,1333.0 762.4,1333.4C766.3,1333.7 769.1,1334.4 772.0,1334.7C774.9,1335.1 772.0,1335.3 780.0,1335.4C788.2,1335.6 811.6,1336.0 821.2,1335.5C830.8,1335.1 829.5,1333.3 837.7,1332.8C846.0,1332.2 857.0,1332.6 870.8,1332.2C884.6,1331.9 898.3,1331.3 920.4,1330.9C942.4,1330.4 970.9,1329.8 1003.0,1329.5C1035.2,1329.2 1076.5,1329.2 1113.2,1328.9C1150.0,1328.7 1195.9,1328.2 1223.4,1328.1C1251.0,1328.0 1255.7,1327.9 1278.5,1328.1C1301.3,1328.3 1336.6,1329.2 1360.2,1329.5C1383.8,1329.7 1407.7,1329.3 1420.0,1329.6C1432.3,1329.8 1428.5,1330.6 1433.8,1331.0C1439.1,1331.4 1445.9,1332.2 1451.7,1332.1C1457.4,1332.0 1462.5,1330.2 1468.2,1330.3C1473.9,1330.3 1480.8,1331.3 1486.1,1332.3C1491.4,1333.4 1496.0,1334.9 1499.9,1336.5C1503.8,1338.1 1507.2,1339.5 1509.5,1342.0C1511.8,1344.5 1512.5,1347.3 1513.7,1351.6C1514.8,1356.0 1515.5,1363.1 1516.4,1368.2C1517.3,1373.2 1518.1,1379.5 1519.2,1381.9C1520.2,1384.3 1521.6,1384.9 1522.6,1382.6C1523.7,1380.3 1524.6,1373.1 1525.4,1368.2C1526.2,1363.2 1526.4,1355.8 1527.4,1353.0C1528.5,1350.2 1530.4,1350.9 1531.6,1351.6C1532.7,1352.3 1533.5,1353.9 1534.3,1357.1C1535.1,1360.3 1535.7,1367.1 1536.4,1370.9C1537.1,1374.7 1537.4,1378.5 1538.5,1379.9C1539.5,1381.2 1541.0,1380.2 1542.6,1379.2C1544.2,1378.1 1546.4,1374.8 1548.1,1373.7C1549.8,1372.5 1551.5,1371.4 1552.9,1372.3C1554.3,1373.2 1555.3,1375.7 1556.4,1379.2C1557.4,1382.6 1558.1,1387.9 1559.1,1392.9C1560.2,1398.0 1561.4,1404.9 1562.6,1409.5C1563.7,1414.1 1564.7,1418.9 1566.0,1420.5C1567.3,1422.1 1569.0,1421.9 1570.1,1419.1C1571.3,1416.4 1572.1,1409.7 1572.9,1404.0C1573.7,1398.2 1574.3,1390.7 1575.0,1384.7C1575.6,1378.7 1576.2,1371.4 1577.0,1368.2C1577.8,1364.9 1578.9,1365.2 1579.8,1365.4C1580.7,1365.6 1581.7,1366.3 1582.5,1369.5C1583.3,1372.7 1583.9,1379.9 1584.6,1384.7C1585.3,1389.5 1585.6,1395.7 1586.7,1398.5C1587.7,1401.2 1589.4,1403.0 1590.8,1401.2C1592.2,1399.4 1593.9,1392.9 1594.9,1387.4C1596.0,1381.9 1596.3,1375.0 1597.0,1368.2C1597.7,1361.3 1598.3,1352.3 1599.1,1346.1C1599.9,1339.9 1600.7,1334.6 1601.8,1331.0C1603.0,1327.3 1604.1,1325.6 1606.0,1324.1C1607.8,1322.6 1609.4,1322.5 1612.8,1322.0C1616.3,1321.6 1619.7,1321.4 1626.6,1321.3C1633.5,1321.3 1645.0,1321.4 1654.2,1321.6C1663.3,1321.8 1670.7,1322.2 1681.7,1322.4C1692.7,1322.6 1712.4,1322.6 1720.0,1322.7C1727.5,1322.8 1724.1,1323.0 1727.5,1323.0C1730.8,1323.1 1727.5,1323.0 1740.0,1323.0C1753.6,1323.0 1789.7,1323.1 1808.9,1323.0C1828.0,1322.9 1839.5,1323.1 1854.8,1322.3C1870.1,1321.5 1885.4,1319.8 1900.7,1318.4C1916.0,1317.1 1933.2,1315.4 1946.6,1314.3C1960.0,1313.1 1972.2,1312.4 1981.0,1311.5C1989.8,1310.7 1993.7,1309.3 1999.4,1309.2C2005.2,1309.1 2009.7,1310.5 2015.5,1310.8C2021.2,1311.2 2028.5,1311.5 2033.8,1311.5C2039.2,1311.5 2043.6,1311.7 2047.6,1310.8C2051.6,1310.0 2054.5,1306.4 2058.0,1306.2C2061.4,1306.1 2063.9,1309.6 2068.3,1310.1C2072.7,1310.6 2079.0,1309.7 2084.4,1309.2C2089.7,1308.8 2094.3,1307.9 2100.4,1307.4C2106.5,1306.9 2112.3,1306.2 2121.1,1306.2C2129.9,1306.3 2144.0,1307.4 2153.2,1307.9C2162.4,1308.3 2167.0,1308.5 2176.2,1308.8C2185.4,1309.0 2201.7,1309.2 2208.3,1309.2C2215.0,1309.3 2214.7,1309.2 2216.0,1309.2" stroke="#000000" stroke-width="12.2"/>
</g>
<rect x="1061" y="308" width="205" height="12" fill="#AE76DD" shape-rendering="crispEdges"/>
<rect x="1064" y="605" width="205" height="12" fill="#7588E9" shape-rendering="crispEdges"/>
<rect x="1064" y="913" width="206" height="12" fill="#192FA8" shape-rendering="crispEdges"/>
<rect x="1069" y="1226" width="206" height="12" fill="#690082" shape-rendering="crispEdges"/>
<rect x="1806" y="1420" width="204" height="12" fill="#000000" shape-rendering="crispEdges"/>
<g fill="#FF00FF" stroke="#FF00FF" stroke-width="8.0" stroke-linejoin="round">
<line x1="518.6" y1="332.1" x2="523.0" y2="296.3" stroke-width="8.6"/><polygon points="527.3,261.1 531.9,297.4 514.1,295.2"/>
<line x1="857.2" y1="271.3" x2="860.5" y2="240.4" stroke-width="8.6"/><polygon points="864.4,205.1 869.5,241.3 851.6,239.4"/>
<line x1="1926.0" y1="215.3" x2="1851.6" y2="222.5" stroke-width="8.6"/><polygon points="1816.3,225.9 1850.7,213.5 1852.5,231.5"/>
<line x1="264.4" y1="532.5" x2="279.4" y2="484.8" stroke-width="8.6"/><polygon points="290.0,450.9 288.0,487.5 270.8,482.1"/>
<line x1="360.1" y1="525.6" x2="368.8" y2="485.7" stroke-width="8.6"/><polygon points="376.4,451.0 377.6,487.6 360.1,483.8"/>
<line x1="476.5" y1="549.0" x2="499.6" y2="508.9" stroke-width="8.6"/><polygon points="517.3,478.2 507.4,513.4 491.8,504.4"/>
<line x1="854.0" y1="534.6" x2="857.2" y2="503.3" stroke-width="8.6"/><polygon points="860.9,468.0 866.2,504.2 848.3,502.4"/>
<line x1="267.4" y1="848.4" x2="282.6" y2="800.0" stroke-width="8.6"/><polygon points="293.2,766.1 291.2,802.7 274.0,797.3"/>
<line x1="365.6" y1="848.8" x2="373.7" y2="809.0" stroke-width="8.6"/><polygon points="380.7,774.2 382.5,810.8 364.8,807.2"/>
<line x1="480.6" y1="880.4" x2="502.1" y2="841.1" stroke-width="8.6"/><polygon points="519.1,809.9 510.0,845.4 494.2,836.8"/>
<line x1="851.5" y1="864.9" x2="855.0" y2="834.3" stroke-width="8.6"/><polygon points="859.0,799.1 863.9,835.4 846.1,833.3"/>
<line x1="258.9" y1="1135.3" x2="279.8" y2="1089.3" stroke-width="8.6"/><polygon points="294.4,1056.9 288.0,1093.0 271.6,1085.6"/>
<line x1="356.7" y1="1135.0" x2="367.5" y2="1097.5" stroke-width="8.6"/><polygon points="377.3,1063.3 376.1,1099.9 358.8,1095.0"/>
<line x1="483.4" y1="1158.7" x2="505.0" y2="1121.3" stroke-width="8.6"/><polygon points="522.8,1090.6 512.8,1125.8 497.2,1116.8"/>
<line x1="862.6" y1="1148.8" x2="865.8" y2="1118.1" stroke-width="8.6"/><polygon points="869.5,1082.8 874.8,1119.0 856.9,1117.2"/>
<line x1="597.7" y1="1479.6" x2="626.4" y2="1449.7" stroke-width="8.6"/><polygon points="651.0,1424.1 632.9,1455.9 619.9,1443.5"/>
<line x1="757.5" y1="1447.0" x2="733.6" y2="1422.8" stroke-width="8.6"/><polygon points="708.7,1397.5 740.0,1416.5 727.2,1429.1"/>
<line x1="1457.2" y1="1406.7" x2="1486.2" y2="1396.1" stroke-width="8.6"/><polygon points="1519.5,1384.0 1489.3,1404.6 1483.1,1387.7"/>
<line x1="1490.9" y1="1457.7" x2="1512.8" y2="1422.4" stroke-width="8.6"/><polygon points="1531.5,1392.2 1520.4,1427.1 1505.1,1417.6"/>
<line x1="1548.3" y1="1498.9" x2="1559.3" y2="1463.1" stroke-width="8.6"/><polygon points="1569.6,1429.1 1567.9,1465.7 1550.6,1460.4"/>
<line x1="1645.9" y1="1459.8" x2="1613.9" y2="1427.6" stroke-width="8.6"/><polygon points="1588.8,1402.4 1620.2,1421.3 1607.5,1433.9"/>
</g>
<text class="tick" x="435.0" y="1634">1000</text>
<text class="tick" x="730.6" y="1634">1500</text>
<text class="tick" x="1026.3" y="1634">2000</text>
<text class="tick" x="1321.9" y="1634">2500</text>
<text class="tick" x="1617.5" y="1634">3000</text>
<text class="tick" x="1913.2" y="1634">3500</text>
<text class="tick" x="2208.8" y="1634">4000</text>
<text class="ann" x="481.0" y="398.6">1147</text>
<text class="ann" x="794.1" y="341.6">1725</text>
<text class="ann" x="1931.4" y="255.4">3303</text>
<text class="ann" x="214.1" y="605.2">750</text>
<text class="ann" x="327.1" y="594.2">905</text>
<text class="ann" x="429.9" y="613.4">1147</text>
<text class="ann" x="787.1" y="609.3">1725</text>
<text class="ann" x="201.7" y="914">750</text>
<text class="ann" x="310.5" y="934.1">905</text>
<text class="ann" x="434.9" y="950.6">1147</text>
<text class="ann" x="791.2" y="943.2">1725</text>
<text class="ann" x="199.0" y="1201">750</text>
<text class="ann" x="310.5" y="1212.9">905</text>
<text class="ann" x="434.1" y="1227.2">1147</text>
<text class="ann" x="816.0" y="1214.8">1725</text>
<text class="ann" x="499.4" y="1528.4">1375</text>
<text class="ann" x="760.9" y="1490.6">1454</text>
<text class="ann" x="1317.4" y="1421.8">2836</text>
<text class="ann" x="1342.5" y="1482.4">2866</text>
<text class="ann" x="1412.7" y="1536.6">2916</text>
<text class="ann" x="1655.2" y="1506.3">2949</text>
<text class="leg" x="1265.3" y="345.8">PP<tspan dx="-3.19" textLength="57.78" lengthAdjust="spacingAndGlyphs">−</tspan><tspan dx="-3.19">g</tspan><tspan dx="-3.19" textLength="57.78" lengthAdjust="spacingAndGlyphs">−</tspan><tspan dx="-3.19">GMA</tspan><tspan dx="-3.19" textLength="57.78" lengthAdjust="spacingAndGlyphs">−</tspan><tspan dx="-3.19">NMDG</tspan></text>
<text class="leg" x="1269.2" y="642.3">PP<tspan dx="-3.19" textLength="57.78" lengthAdjust="spacingAndGlyphs">−</tspan><tspan dx="-3.19">g</tspan><tspan dx="-3.19" textLength="57.78" lengthAdjust="spacingAndGlyphs">−</tspan><tspan dx="-3.19">GMA(GP:228%)</tspan></text>
<text class="leg" x="1269.2" y="950.0">PP<tspan dx="-3.19" textLength="57.78" lengthAdjust="spacingAndGlyphs">−</tspan><tspan dx="-3.19">g</tspan><tspan dx="-3.19" textLength="57.78" lengthAdjust="spacingAndGlyphs">−</tspan><tspan dx="-3.19">GMA(GP:192%)</tspan></text>
<text class="leg" x="1274.5" y="1263">PP<tspan dx="-3.19" textLength="57.78" lengthAdjust="spacingAndGlyphs">−</tspan><tspan dx="-3.19">g</tspan><tspan dx="-3.19" textLength="57.78" lengthAdjust="spacingAndGlyphs">−</tspan><tspan dx="-3.19">GMA(GP:92%)</tspan></text>
<text class="leg" x="2032.1" y="1456.2">PP</text>
<text class="ttl" x="837" y="1785">Wavenumber/cm</text>
<text x="1503" y="1748" style="font-size:64px;"><tspan style="font-weight:normal;">−</tspan>1</text>
<text class="ttl" style="font-size:90.4px;" transform="translate(79,1082.5) rotate(-90)" x="0" y="0">Transmittance/%</text>
</svg>
</body>
</html>
